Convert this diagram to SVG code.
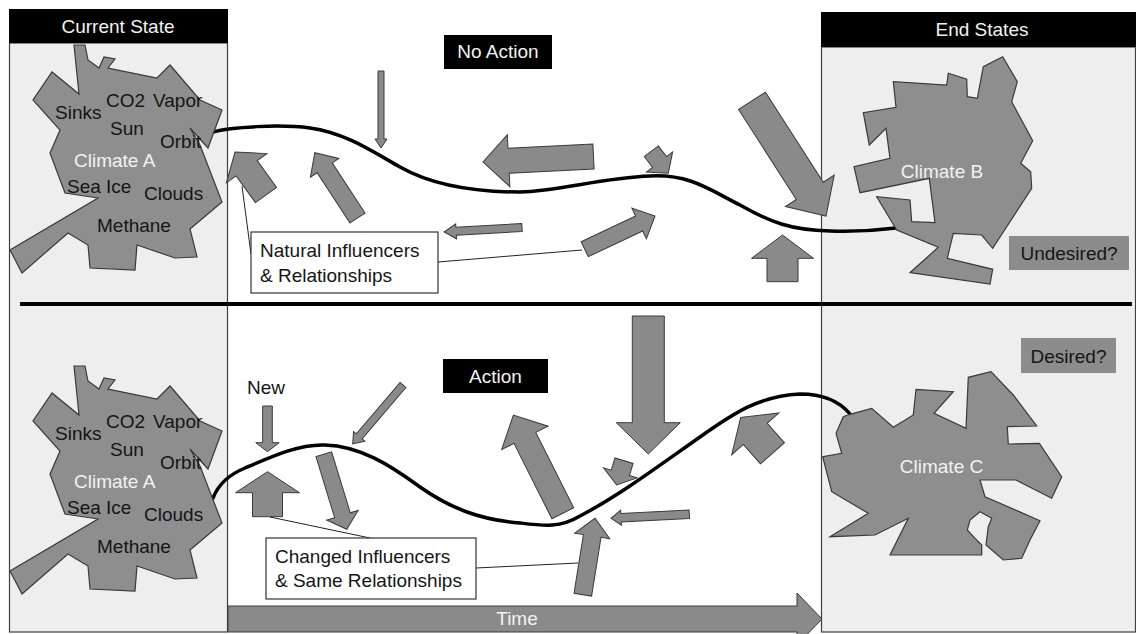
<svg xmlns="http://www.w3.org/2000/svg" width="1136" height="634" viewBox="0 0 1136 634">
<style>
.t{font-family:"Liberation Sans",Arial,sans-serif;font-size:19px;fill:#151515}
.w{fill:#f2f2f2}
.c{text-anchor:middle}
.arr{fill:#8a8a8a;stroke:#3a3a3a;stroke-width:1;stroke-linejoin:miter}
.blob{fill:#8e8e8e;stroke:#3a3a3a;stroke-width:1.2;stroke-linejoin:miter}
.panel{fill:#eeeeee;stroke:#404040;stroke-width:1.2}
.hdr{fill:#000}
.curve{fill:none;stroke:#000;stroke-width:3.5;stroke-linecap:round}
.lead{fill:none;stroke:#222;stroke-width:1}
.box{fill:#fff;stroke:#333;stroke-width:1.2}
</style>
<defs>
<polygon id="blobAshape" class="blob" points="74,45 85,45 88,60 99,68 104,57 115,59 108,68 157,78 170,65 200,100 222,110 208,148 190,128 200,145 222,202 190,229 197,257 175,258 137,245 135,270 90,268 88,245 68,233 22,273 10,250 98,198 65,193 50,153 60,130 33,100 52,72 79,94"/>
<g id="blobAtext">
<text class="t" x="106" y="107">CO2</text>
<text class="t" x="153" y="107">Vapor</text>
<text class="t" x="55" y="119">Sinks</text>
<text class="t" x="110" y="135">Sun</text>
<text class="t" x="160" y="148">Orbit</text>
<text class="t w" x="74" y="167">Climate A</text>
<text class="t" x="67" y="193">Sea Ice</text>
<text class="t" x="144" y="200">Clouds</text>
<text class="t" x="97" y="232">Methane</text>
</g>
</defs>
<rect width="1136" height="634" fill="#fff"/>

<g id="panel-current">
<rect class="panel" x="9.5" y="43" width="218" height="589"/>
<rect class="hdr" x="9" y="9" width="219" height="34"/>
<text class="t w c" x="118" y="33">Current State</text>
</g>
<g id="panel-end">
<rect class="panel" x="821.5" y="47" width="314" height="585"/>
<rect class="hdr" x="821" y="12" width="315" height="35"/>
<text class="t w c" x="982" y="36">End States</text>
</g>

<g id="divider">
<line x1="20" y1="304" x2="1132" y2="304" stroke="#000" stroke-width="4"/>
</g>

<g id="time-arrow">
<polygon class="arr" points="228,606 797,606 797,593 822,619 797,645 797,632 228,632"/>
<text class="t w c" x="517" y="625">Time</text>
</g>

<g id="label-no-action">
<rect class="hdr" x="444" y="35" width="108" height="34"/>
<text class="t w c" x="498" y="58">No Action</text>
</g>
<g id="label-action">
<rect class="hdr" x="443" y="359" width="105" height="34"/>
<text class="t w c" x="495.5" y="383">Action</text>
</g>

<g id="arrows">
<polygon class="arr" transform="translate(381,71) rotate(90)" points="0,-3 68,-3 68,-6 77,0 68,6 68,3 0,3"/>
<polygon class="arr" transform="translate(266,195) rotate(-125.8)" points="0,-13 33,-13 33,-25 53,0 33,25 33,13 0,13"/>
<polygon class="arr" transform="translate(357.5,218) rotate(-123.2)" points="0,-9 60,-9 60,-17 78,0 60,17 60,9 0,9"/>
<polygon class="arr" transform="translate(593.5,156.5) rotate(177.15)" points="0,-12.5 85,-12.5 85,-26 110.6,0 85,26 85,12.5 0,12.5"/>
<polygon class="arr" transform="translate(651.3,151.3) rotate(52.3)" points="0,-8.8 13.5,-8.8 13.5,-16.5 27.8,0 13.5,16.5 13.5,8.8 0,8.8"/>
<polygon class="arr" transform="translate(752,100.8) rotate(57.3)" points="0,-16 107,-16 107,-29 137,0 107,29 107,16 0,16"/>
<polygon class="arr" transform="translate(782.5,281.7) rotate(-90)" points="0,-15.5 23.4,-15.5 23.4,-31 46.7,0 23.4,31 23.4,15.5 0,15.5"/>
<polygon class="arr" transform="translate(522,227.5) rotate(176.7)" points="0,-4 66,-4 66,-7.5 78,0 66,7.5 66,4 0,4"/>
<polygon class="arr" transform="translate(584.7,249.2) rotate(-25.3)" points="0,-8.3 60.2,-8.3 60.2,-17 77.8,0 60.2,17 60.2,8.3 0,8.3"/>

<polygon class="arr" transform="translate(267.5,406) rotate(90)" points="0,-4.8 36.7,-4.8 36.7,-11.7 45.7,0 36.7,11.7 36.7,4.8 0,4.8"/>
<polygon class="arr" transform="translate(267.5,516.7) rotate(-90)" points="0,-15 24,-15 24,-32 45,0 24,32 24,15 0,15"/>
<polygon class="arr" transform="translate(323.8,454.2) rotate(73)" points="0,-8.2 63.8,-8.2 63.8,-16.4 78.5,0 63.8,16.4 63.8,8.2 0,8.2"/>
<polygon class="arr" transform="translate(403,385) rotate(130.45)" points="0,-3.8 67.5,-3.8 67.5,-7.5 77.5,0 67.5,7.5 67.5,3.8 0,3.8"/>
<polygon class="arr" transform="translate(562.8,513.3) rotate(-116.7)" points="0,-12.2 84.4,-12.2 84.4,-26 110,0 84.4,26 84.4,12.2 0,12.2"/>
<polygon class="arr" transform="translate(648.3,316) rotate(90)" points="0,-16 106.7,-16 106.7,-32 138,0 106.7,32 106.7,16 0,16"/>
<polygon class="arr" transform="translate(624,460.7) rotate(106.7)" points="0,-9.5 12.7,-9.5 12.7,-17.5 25.4,0 12.7,17.5 12.7,9.5 0,9.5"/>
<polygon class="arr" transform="translate(689.3,514.2) rotate(177)" points="0,-4.2 68.4,-4.2 68.4,-7.5 78.4,0 68.4,7.5 68.4,4.2 0,4.2"/>
<polygon class="arr" transform="translate(582.8,594.7) rotate(-80.9)" points="0,-8.9 59.5,-8.9 59.5,-17.8 77.4,0 59.5,17.8 59.5,8.9 0,8.9"/>
<polygon class="arr" transform="translate(772.5,453.3) rotate(-131.5)" points="0,-16 26,-16 26,-31.5 48,0 26,31.5 26,16 0,16"/>
</g>

<g id="connectors">
<path class="curve" d="M213,132 C230,127 280,124 310,128 C345,133 370,150 400,167 C430,184 470,192 520,192 C560,191 600,178 650,176 C690,174 710,190 740,205 C770,222 790,230 830,231 C860,232 880,230 896,228"/>
<path class="curve" d="M213,498 C218,485 228,475 245,468 C275,455 300,444 325,445 C360,446 390,465 420,487 C450,508 480,520 520,523 C545,526 560,528 580,516 C620,495 660,465 700,437 C735,412 760,396 800,394 C825,394 840,402 850,414"/>
<line class="lead" x1="242" y1="186" x2="251" y2="254"/>
<line class="lead" x1="438" y1="262" x2="582" y2="250"/>
<line class="lead" x1="270" y1="517" x2="370" y2="538"/>
<line class="lead" x1="476" y1="568" x2="578" y2="563"/>
</g>

<g id="climate-a-top">
<use href="#blobAshape"/>
<use href="#blobAtext"/>
</g>
<g id="climate-a-bottom" transform="translate(0,321)">
<use href="#blobAshape"/>
<use href="#blobAtext"/>
</g>

<g id="climate-b">
<polygon class="blob" points="1002.7,56.7 1017.3,81.7 1011.7,101.7 1032.7,140.7 1020.7,163.3 1030.7,171.7 1031.7,188.3 992.7,248.3 981.7,235 953.3,233.3 947.3,258.3 992.7,269.3 990,284 910,272.7 938.3,247.3 896.7,230 876.7,196.7 910,200 911.7,221.7 935,222.7 929.3,178.3 860,192.7 854,166.7 890,158.3 886,128.3 869.3,145 863.3,112.7 896,107.3 893.3,81.7 946.7,85 948.3,73.3 966.7,79.3 967.3,96.7 977.3,98.3 983.3,66.7"/>
<text class="t w c" x="942" y="178">Climate B</text>
</g>

<g id="climate-c">
<polygon class="blob" points="991,371.7 1013.3,395 1036.7,426 1007.3,426.7 1008.3,444 1039.3,443.3 1061.7,476.7 1051.7,498.3 1016,480 980,480 985,496.7 1040,520.7 1030,540 1021.7,558.3 1003.3,560 986,545 988.3,526.7 991.7,518.3 980,511.7 970,520 967.3,530 975,538.3 981.7,545 981.7,555 890,555 908.3,518.3 875,535 830,536.7 868.3,513.3 831.7,491.7 822.7,456.7 841.7,453.3 836,433.3 843.3,416.7 850,414.3 871.7,408.3 893.3,427.3 913.3,415 916,389.3 953.3,391.7 934,413.3 966,428.3 968.3,377.3"/>
<text class="t w c" x="941.5" y="473">Climate C</text>
</g>

<g id="label-undesired">
<rect x="1009" y="236" width="120" height="34" fill="#8c8c8c"/>
<text class="t c" x="1069" y="260">Undesired?</text>
</g>
<g id="label-desired">
<rect x="1021" y="338" width="95" height="35" fill="#8c8c8c"/>
<text class="t c" x="1068.5" y="363">Desired?</text>
</g>

<g id="note-natural">
<rect class="box" x="251" y="232" width="187" height="61"/>
<text class="t" x="260" y="257">Natural Influencers</text>
<text class="t" x="260" y="282">&amp; Relationships</text>
</g>
<g id="note-changed">
<rect class="box" x="266" y="538" width="210" height="61"/>
<text class="t" x="275" y="563">Changed Influencers</text>
<text class="t" x="275" y="587">&amp; Same Relationships</text>
</g>
<g id="label-new">
<text class="t" x="247" y="394">New</text>
</g>
</svg>
